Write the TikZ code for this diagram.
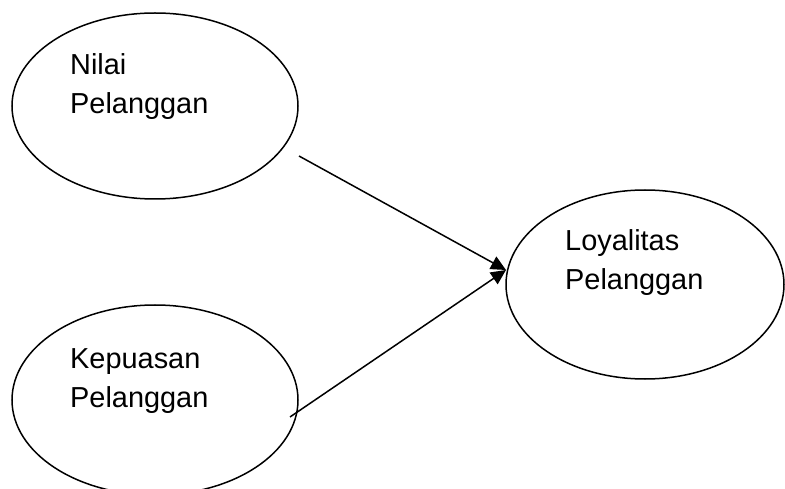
\documentclass[tikz,border=0pt]{standalone}
\usepackage{fontspec}
\setmainfont{Liberation Sans}
\usetikzlibrary{shapes.geometric,arrows.meta}
\begin{document}
\begin{tikzpicture}[x=1pt,y=-1pt,
  oval/.style={ellipse,draw,line width=1.5pt,inner sep=0pt},
  lbl/.style={anchor=base west,inner sep=0pt,align=left,
    font=\fontsize{28.9pt}{39pt}\selectfont},
  link/.style={line width=1.5pt,-{Triangle[length=15pt,width=14pt]}}]
\useasboundingbox (0,0) rectangle (785,489);
\clip (0,0) rectangle (785,489);
\fill[white] (0,0) rectangle (785,489);
\node[oval,minimum width=286pt,minimum height=186pt] (e1) at (155,106) {};
\node[oval,minimum width=286pt,minimum height=190pt] (e2) at (155,400) {};
\node[oval,minimum width=278pt,minimum height=189pt] (e3) at (645,284.5) {};
\node[lbl] (t1) at (70,114) {Nilai\\Pelanggan};
\node[lbl] (t2) at (70,407) {Kepuasan\\Pelanggan};
\node[lbl] (t3) at (565,290) {Loyalitas\\Pelanggan};
\coordinate (s1) at (299,156);
\coordinate (s2) at (290,417);
\coordinate (tip) at (506,270);
\draw[link] (s1) -- (tip);
\draw[link] (s2) -- (tip);
\end{tikzpicture}
\end{document}
